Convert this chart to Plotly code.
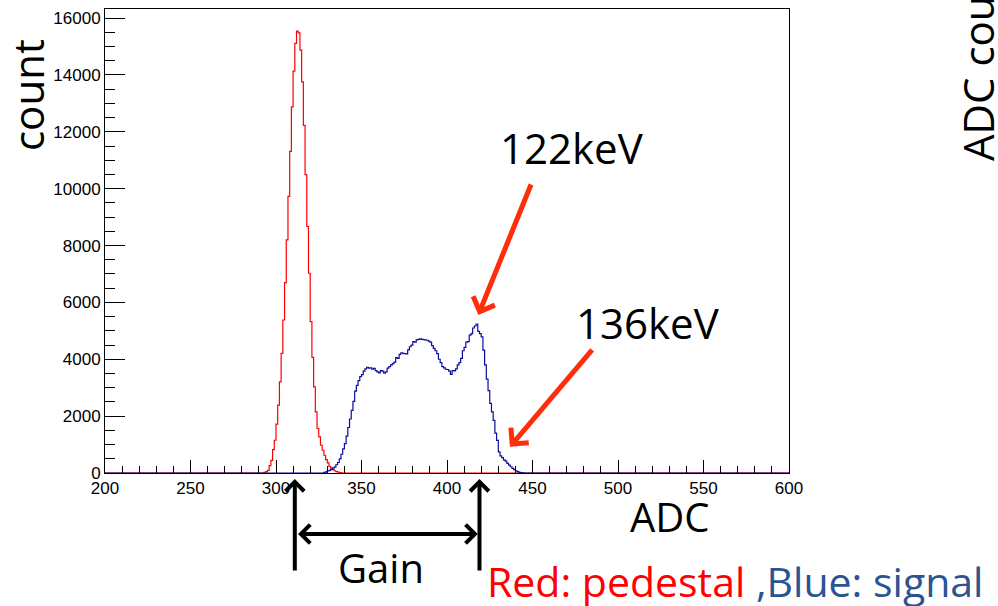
import plotly.graph_objects as go

# ---------------------------------------------------------------------------
# Histogram data: 1-ADC-wide bins over [200, 600)
# ---------------------------------------------------------------------------
adc_min, adc_max = 200, 600

# pedestal spectrum (red), counts per bin starting at bin 293
pedestal_first_bin = 293
pedestal_counts = [
    20, 50, 95, 260, 447, 825, 1152, 1716, 2386, 3207,
    4207, 5381, 6696, 8200, 9727, 11313, 12877, 14132, 15108, 15542,
    15480, 14872, 13758, 12229, 10492, 8670, 7026, 5322, 4066, 3031,
    2150, 1565, 1269, 976, 800, 624, 472, 353, 236, 170,
    120, 80, 50, 30, 15, 8,
]

# source signal spectrum (blue), counts per bin starting at bin 328
signal_first_bin = 328
signal_counts = [
    20, 40, 70, 95, 130, 170, 210, 290, 370, 500,
    660, 850, 1030, 1300, 1600, 1900, 2200, 2520, 2880, 3080,
    3250, 3390, 3460, 3580, 3660, 3720, 3690, 3700, 3650, 3680,
    3600, 3560, 3520, 3600, 3580, 3510, 3560, 3690, 3740, 3800,
    3850, 3900, 4060, 4030, 4170, 4230, 4210, 4200, 4190, 4330,
    4440, 4500, 4620, 4600, 4680, 4700, 4720, 4700, 4690, 4680,
    4670, 4640, 4600, 4480, 4380, 4300, 4200, 4000, 3880, 3740,
    3700, 3650, 3640, 3580, 3470, 3600, 3590, 3660, 3800, 3880,
    4030, 4300, 4420, 4600, 4620, 4850, 4900, 5100, 5170, 5240,
    4980, 4900, 4790, 4320, 3800, 3300, 2900, 2450, 2150, 1850,
    1400, 1150, 740, 600, 540, 460, 420, 340, 280, 220,
    160, 120, 80, 50, 25, 12, 5,
]

# peak positions used for the gain marker (ADC)
pedestal_peak_adc = 311
signal_peak_adc = 419

# photopeak labels: (text, arrow tip ADC, tip count, tail ADC, tail count)
peak_labels = [
    ("122keV", 418.3, 5560, 449.5, 10200),
    ("136keV", 436.8, 920, 485.6, 4380),
]

x_ticks = [200, 250, 300, 350, 400, 450, 500, 550, 600]
x_minor = list(range(200, 601, 10))
y_ticks = [0, 2000, 4000, 6000, 8000, 10000, 12000, 14000, 16000]
y_minor = list(range(0, 16001, 500))
y_max = 16320

# ---------------------------------------------------------------------------
W, H = 998, 606
M_L, M_R, M_T, M_B = 105, 209, 9, 133
PLOT_W, PLOT_H = W - M_L - M_R, H - M_T - M_B


def px(xpix):
    return (xpix - M_L) / PLOT_W


def py(ypix):
    return (H - M_B - ypix) / PLOT_H


def full_hist(first, counts):
    vals = [0] * (adc_max - adc_min)
    for i, c in enumerate(counts):
        vals[first - adc_min + i] = c
    return vals


edges = list(range(adc_min, adc_max + 1))
ped = full_hist(pedestal_first_bin, pedestal_counts)
sig = full_hist(signal_first_bin, signal_counts)

fig = go.Figure()
fig.add_trace(go.Scatter(x=edges, y=ped + [ped[-1]], mode="lines",
                         line=dict(shape="hv", color="#ff0000", width=1.2),
                         name="pedestal", showlegend=False))
fig.add_trace(go.Scatter(x=edges, y=sig + [sig[-1]], mode="lines",
                         line=dict(shape="hv", color="#0c0c9c", width=1.2),
                         name="signal", showlegend=False))

tick_font = dict(family="Liberation Sans, Arial, sans-serif", size=17, color="black")
text_font = "Open Sans, Noto Sans, sans-serif"

fig.update_layout(
    width=W, height=H,
    margin=dict(l=M_L, r=M_R, t=M_T, b=M_B),
    paper_bgcolor="white", plot_bgcolor="white",
    xaxis=dict(range=[adc_min, adc_max], showgrid=False, zeroline=False,
               showline=True, linecolor="black", linewidth=1, mirror=True,
               ticks="inside", ticklen=13, tickwidth=1, tickcolor="black",
               tickmode="array", tickvals=x_ticks,
               ticktext=[str(v) for v in x_ticks], tickfont=tick_font,
               minor=dict(tickmode="array", tickvals=x_minor, ticks="inside",
                          ticklen=7, tickwidth=1, tickcolor="black", showgrid=False)),
    yaxis=dict(range=[0, y_max], showgrid=False, zeroline=False,
               showline=True, linecolor="black", linewidth=1, mirror=True,
               ticks="inside", ticklen=20, tickwidth=1, tickcolor="black",
               tickmode="array", tickvals=y_ticks,
               ticktext=[str(v) for v in y_ticks], tickfont=tick_font,
               minor=dict(tickmode="array", tickvals=y_minor, ticks="inside",
                          ticklen=10, tickwidth=1, tickcolor="black", showgrid=False)),
)


def label(text, x, y, size, color="black", textangle=0, xanchor="center",
          yanchor="middle"):
    return dict(text=text, xref="paper", yref="paper", x=px(x), y=py(y),
                xanchor=xanchor, yanchor=yanchor, textangle=textangle,
                showarrow=False,
                font=dict(family=text_font, size=size, color=color))


ann = []
# axis titles
ann.append(label("count", 28, 95, 42, textangle=-90))
ann.append(label("ADC", 670, 516, 40))
# cut-off title of a neighbouring panel
ann.append(label("ADC counts", 977, 163, 42, textangle=-90, yanchor="bottom"))

# photopeak arrows and labels
arrow_red = "#ff2d0a"
label_pos = [(572, 148), (648, 322)]
for (text, tx, ty, ax_, ay_), (lx, ly) in zip(peak_labels, label_pos):
    ann.append(dict(text="", x=tx, y=ty, xref="x", yref="y", ax=ax_, ay=ay_,
                    axref="x", ayref="y", showarrow=True, arrowhead=4,
                    arrowsize=0.9, arrowwidth=5, arrowcolor=arrow_red))
    ann.append(label(text, lx, ly, 42))

# gain marker: two vertical arrows at the peaks and a double arrow between them
for adc in (pedestal_peak_adc, signal_peak_adc):
    ann.append(dict(text="", x=adc, y=py(479), xref="x", yref="paper",
                    ax=0, ay=93, showarrow=True, arrowhead=4, arrowsize=0.9,
                    arrowwidth=4, arrowcolor="black"))
ann.append(dict(text="", x=signal_peak_adc - 1, y=py(534), xref="x", yref="paper",
                ax=pedestal_peak_adc + 1, ay=0, axref="x", ayref="pixel",
                showarrow=True, arrowhead=4, startarrowhead=4, arrowside="end+start",
                arrowsize=0.9, startarrowsize=0.9, arrowwidth=4, arrowcolor="black"))
ann.append(label("Gain", 381, 567, 40))

# colour legend text
ann.append(label("<span style='color:#ff0000'>Red: pedestal</span>"
                 "<span style='color:#2a5592'> ,Blue: signal</span>",
                 485, 581, 41, xanchor="left"))

fig.update_layout(annotations=ann)
fig.write_html("out.html")
